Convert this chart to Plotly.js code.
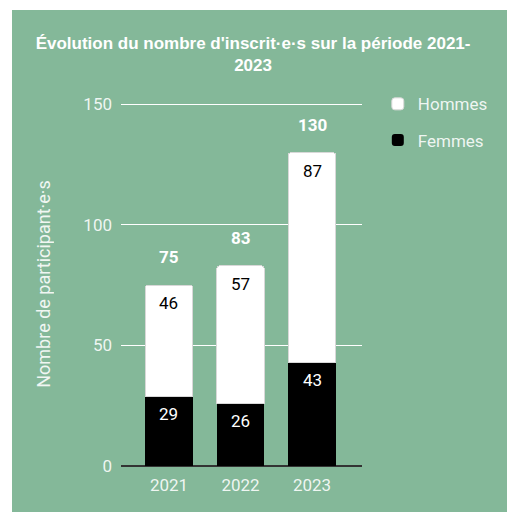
<!DOCTYPE html>
<html>
<head>
<meta charset="utf-8">
<script src="https://cdn.plot.ly/plotly-3.0.1.min.js"></script>
<style>
  html, body { margin: 0; padding: 0; background: #ffffff; }
  #chart { position: absolute; left: 12px; top: 10px; width: 495px; height: 502px; }
</style>
</head>
<body>
<div id="chart"></div>
<script>
const years = ['2021', '2022', '2023'];
const femmes = [29, 26, 43];
const hommes = [46, 57, 87];
const totals = [75, 83, 130];
const yTicks = [0, 50, 100, 150];

const BG = 'rgb(132,184,153)';
const LIGHT = 'rgba(255,255,255,0.88)';
const FONT = 'Roboto, Arial, sans-serif';

const traces = [
  {
    type: 'bar', name: 'Femmes', x: years, y: femmes,
    marker: { color: '#000000', line: { width: 0 } },
    legendgroup: 'f', legendrank: 2, hoverinfo: 'skip'
  },
  {
    type: 'bar', name: 'Hommes', x: years, y: hommes,
    marker: { color: '#ffffff', line: { color: '#d8d8d8', width: 1 } },
    legendgroup: 'h', legendrank: 1, hoverinfo: 'skip'
  }
];

const annotations = [];
years.forEach((yr, i) => {
  annotations.push({
    x: i, y: femmes[i], xref: 'x', yref: 'y', yshift: -18, yanchor: 'middle',
    text: String(femmes[i]), showarrow: false,
    font: { family: FONT, size: 17, color: '#ffffff' }
  });
  annotations.push({
    x: i, y: femmes[i] + hommes[i], xref: 'x', yref: 'y', yshift: -18, yanchor: 'middle',
    text: String(hommes[i]), showarrow: false,
    font: { family: FONT, size: 17, color: '#000000' }
  });
  annotations.push({
    x: i, y: totals[i], xref: 'x', yref: 'y', yshift: 28, yanchor: 'middle',
    text: '<b>' + totals[i] + '</b>', showarrow: false,
    font: { family: FONT, size: 17, color: '#ffffff' }
  });
});

const layout = {
  width: 495, height: 502,
  paper_bgcolor: BG, plot_bgcolor: BG,
  margin: { l: 109, r: 145, t: 92, b: 46 },
  title: {
    text: "<b>Évolution du nombre d'inscrit·e·s sur la période 2021-<br>2023</b>",
    font: { family: 'Arial, Liberation Sans, sans-serif', size: 17, color: '#ffffff' },
    x: 0.487, xanchor: 'center', xref: 'container',
    y: 0.923, yanchor: 'top', yref: 'container'
  },
  barmode: 'stack',
  bargap: 0.34,
  barcornerradius: 3,
  xaxis: {
    type: 'category', categoryorder: 'array', categoryarray: years,
    range: [-0.671, 2.699],
    showgrid: false, zeroline: false, showline: false, ticks: '',
    tickfont: { family: FONT, size: 17, color: LIGHT },
    ticklabelstandoff: 7,
    fixedrange: true
  },
  yaxis: {
    range: [0, 151], tickvals: yTicks, ticktext: yTicks.map(String),
    showgrid: true, gridcolor: '#ffffff', gridwidth: 1,
    zeroline: true, zerolinecolor: '#333333', zerolinewidth: 1.5,
    showline: false, ticks: '',
    tickfont: { family: FONT, size: 17, color: LIGHT },
    ticklabelstandoff: 8,
    title: { text: 'Nombre de participant·e·s', font: { family: FONT, size: 18, color: LIGHT }, standoff: 28 },
    fixedrange: true
  },
  showlegend: true,
  legend: {
    x: 0.739, xanchor: 'left', xref: 'container',
    y: 0.848, yanchor: 'top', yref: 'container',
    traceorder: 'grouped', tracegroupgap: 11,
    font: { family: FONT, size: 17, color: LIGHT },
    bgcolor: 'rgba(0,0,0,0)', borderwidth: 0
  },
  annotations: annotations
};

Plotly.newPlot('chart', traces, layout, { displayModeBar: false, staticPlot: true });
</script>
</body>
</html>
